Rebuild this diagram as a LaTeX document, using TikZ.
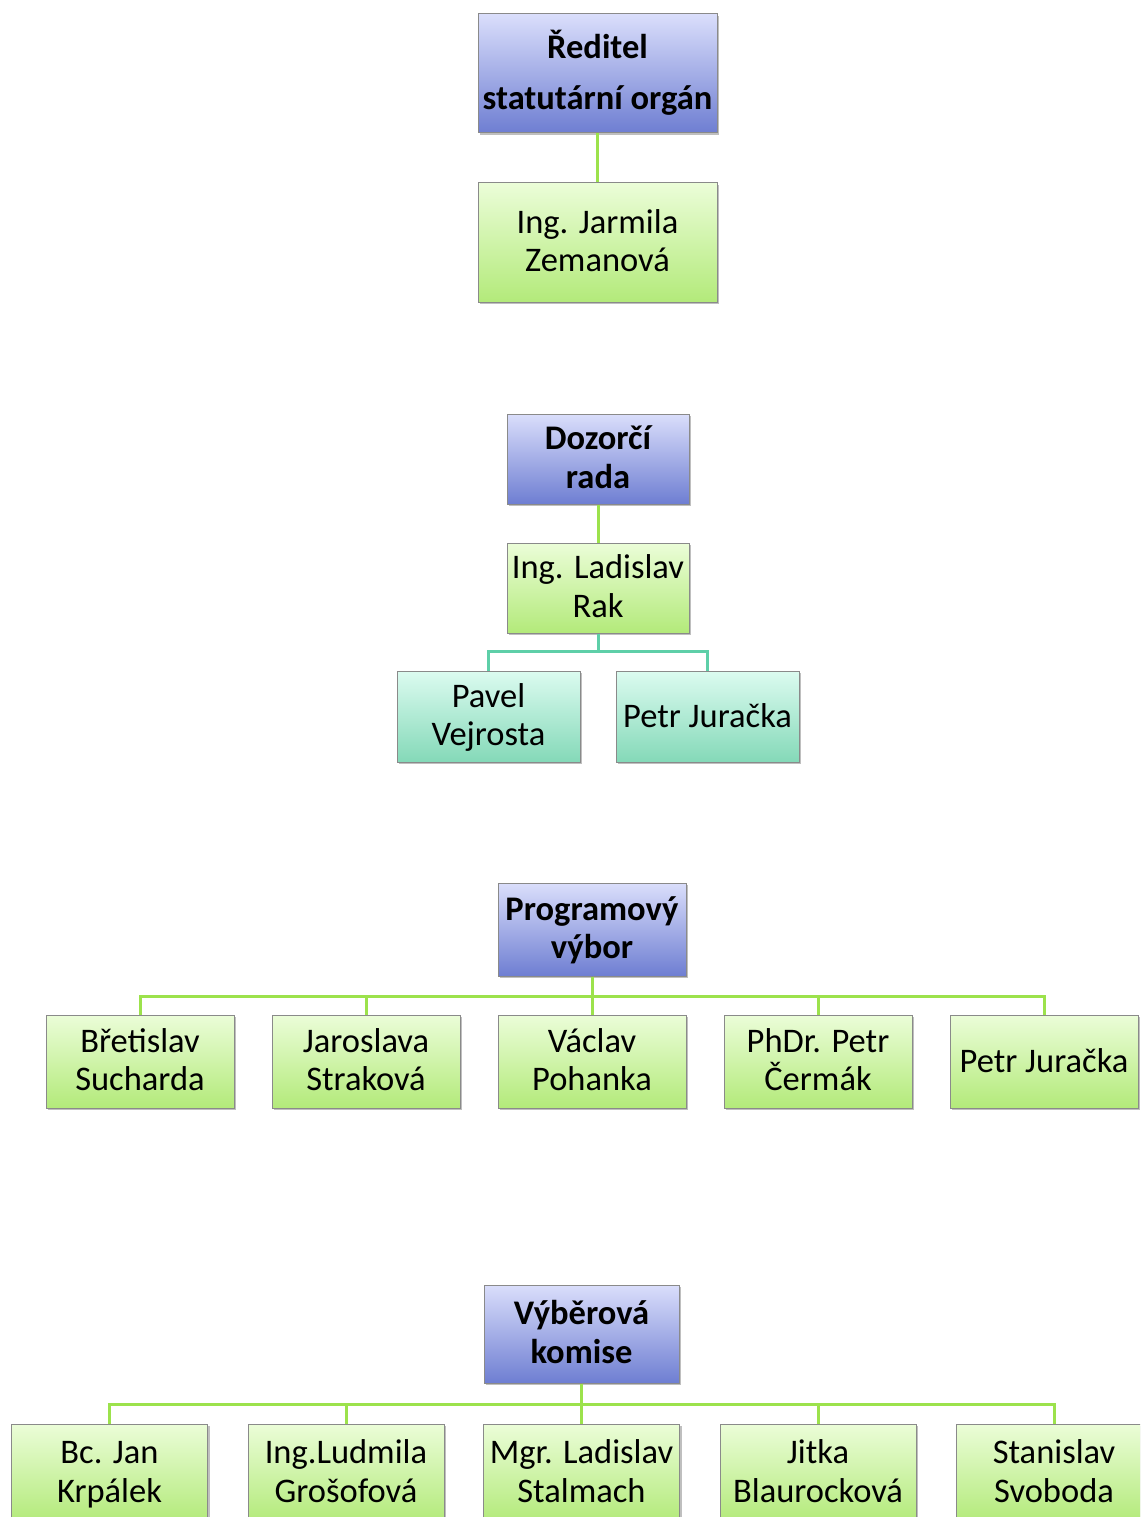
\documentclass[tikz,border=0pt]{standalone}
\usepackage{fontspec}
\setmainfont{Carlito}
\usetikzlibrary{shadows}
\definecolor{blueT}{HTML}{DADEFB}
\definecolor{blueB}{HTML}{6E7ED2}
\definecolor{greenT}{HTML}{EBFDD8}
\definecolor{greenB}{HTML}{B3EA7A}
\definecolor{tealT}{HTML}{DCFBF0}
\definecolor{tealB}{HTML}{84D9B8}
\definecolor{lineG}{HTML}{9CE24C}
\definecolor{lineT}{HTML}{5ECFA8}
\definecolor{edgeC}{HTML}{8A8A8A}
\begin{document}
\begin{tikzpicture}[x=1pt,y=-1pt,
  box/.style={draw=edgeC, line width=1pt, align=center, inner sep=0pt,
    font=\fontsize{34.5}{38.5}\selectfont, text height=58pt, text depth=0pt,
    drop shadow={shadow xshift=2pt, shadow yshift=-2pt, opacity=0.25, fill=black}},
  oneline/.style={text height=21pt, text depth=0pt},
  headbox/.style={box, top color=blueT, bottom color=blueB, font=\bfseries\fontsize{34.5}{38.5}\selectfont},
  greenbox/.style={box, top color=greenT, bottom color=greenB},
  tealbox/.style={box, top color=tealT, bottom color=tealB},
  glink/.style={draw=lineG, line width=3pt},
  tlink/.style={draw=lineT, line width=3pt}]
\useasboundingbox (0,0) rectangle (1140,1517);
\clip (0,0) rectangle (1140,1517);

% Reditel
\node[headbox, minimum width=239, minimum height=119, text height=72pt, text depth=0pt] (r1) at (597.5,73.5) {Ředitel\\[12.5pt]statutární orgán};
\node[greenbox, minimum width=239, minimum height=119] (r2) at (597.5,242.5) {Ing. Jarmila\\Zemanová};

% Dozorci rada
\node[headbox, minimum width=182, minimum height=90] (d1) at (598,459) {Dozorčí\\rada};
\node[greenbox, minimum width=182, minimum height=90] (d2) at (598,588) {Ing. Ladislav\\Rak};
\node[tealbox, minimum width=183, minimum height=91] (d3) at (488.5,716.5) {Pavel\\Vejrosta};
\node[tealbox, oneline, minimum width=183, minimum height=91] (d4) at (707.5,716.5) {Petr Juračka};

% Programovy vybor
\node[headbox, minimum width=188, minimum height=93] (p0) at (592,929.5) {Programový\\výbor};
\foreach \n/\x/\t in {p1/140/{Břetislav\\Sucharda}, p2/366/{Jaroslava\\Straková}, p3/592/{Václav\\Pohanka}, p4/818/{PhDr. Petr\\Čermák}}
  \node[greenbox, minimum width=188, minimum height=93] (\n) at (\x,1061.5) {\t};
\node[greenbox, oneline, minimum width=188, minimum height=93] (p5) at (1044,1061.5) {Petr Juračka};

% Vyberova komise
\node[headbox, minimum width=195, minimum height=98] (v0) at (581.5,1334) {Výběrová\\komise};
\foreach \n/\x/\t in {v1/109.5/{Bc. Jan\\Krpálek}, v2/346/{Ing.Ludmila\\Grošofová}, v3/581.5/{Mgr. Ladislav\\Stalmach}, v4/818/{Jitka\\Blaurocková}, v5/1054/{Stanislav\\Svoboda}}
  \node[greenbox, minimum width=196, minimum height=98] (\n) at (\x,1473) {\t};

% connectors
\path[glink] (r1.south) -- (r2.north);
\path[glink] (d1.south) -- (d2.north);
\path[tlink] (d2.south) -- ++(0,18) -| (d3.north);
\path[tlink] (d2.south) -- ++(0,18) -| (d4.north);
\foreach \n in {p1,p2,p3,p4,p5}
  \path[glink] (p0.south) -- ++(0,20) -| (\n.north);
\foreach \n in {v1,v2,v3,v4,v5}
  \path[glink] (v0.south) -- ++(0,21) -| (\n.north);
\end{tikzpicture}
\end{document}
